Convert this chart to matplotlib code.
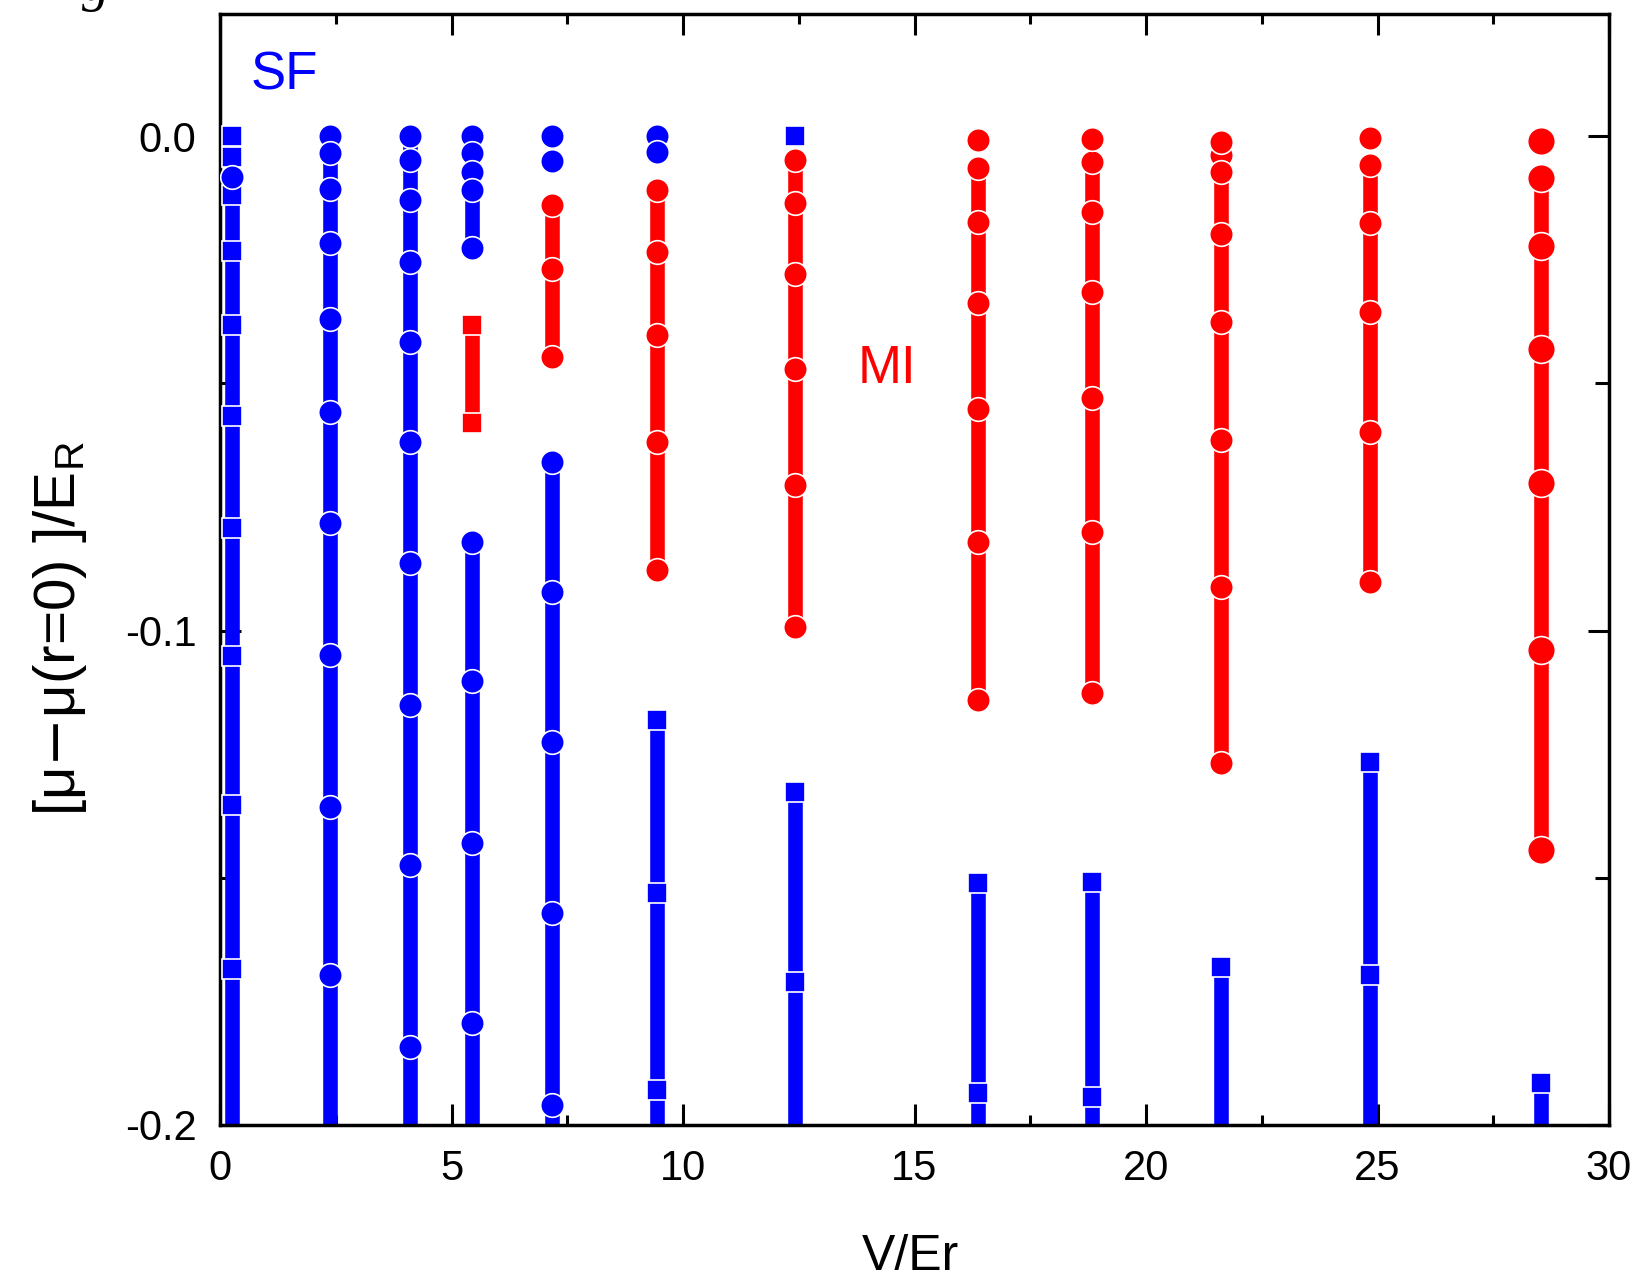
import matplotlib.pyplot as plt
from matplotlib.ticker import MultipleLocator, FormatStrFormatter

plt.rcParams['font.family'] = ['Liberation Sans', 'DejaVu Sans']
plt.rcParams['axes.unicode_minus'] = False

BLUE = '#0000ff'
RED = '#ff0000'

# lattice depths of the columns (V/Er)
V = [0.26, 2.38, 4.10, 5.44, 7.16, 9.43, 12.42, 16.38, 18.83, 21.62, 24.84, 28.53]

# SF levels (blue) that run down to the bottom of the plot
sf_y = [
    [0.0, -0.0042, -0.0119, -0.0233, -0.0382, -0.0567, -0.0792, -0.1052, -0.1352, -0.1684],
    [0.0, -0.0035, -0.0106, -0.0217, -0.0369, -0.0558, -0.0783, -0.1050, -0.1356, -0.1697],
    [0.0, -0.0049, -0.0129, -0.0254, -0.0416, -0.0618, -0.0864, -0.1151, -0.1474, -0.1842],
    [-0.0820, -0.1103, -0.1430, -0.1794],
    [-0.0659, -0.0922, -0.1225, -0.1572, -0.1960],
    [-0.1181, -0.1531, -0.1929],
    [-0.1326, -0.1710],
    [-0.1511, -0.1936],
    [-0.1508, -0.1943],
    [-0.1680],
    [-0.1266, -0.1697],
    [-0.1916],
]
sf_mk = ['s', 'o', 'o', 'o', 'o', 's', 's', 's', 's', 's', 's', 's']

# extra SF circle on the first column
sf_extra_x = [0.26]
sf_extra_y = [-0.0082]

# SF groups near mu = mu(r=0), not reaching the bottom
sf_top_x = [5.44, 7.16, 9.43, 12.42]
sf_top_y = [
    [0.0, -0.0035, -0.0072, -0.0109, -0.0227],
    [0.0, -0.0050],
    [0.0, -0.0032],
    [0.0],
]
sf_top_mk = ['o', 'o', 'o', 's']
sf_top_joined = [True, False, False, False]

# MI levels (red)
mi_x = [5.44, 7.16, 9.43, 12.42, 16.38, 18.83, 21.62, 24.84, 28.53]
mi_y = [
    [-0.0382, -0.0581],
    [-0.0140, -0.0268, -0.0446],
    [-0.0109, -0.0234, -0.0402, -0.0618, -0.0878],
    [-0.0049, -0.0136, -0.0278, -0.0470, -0.0706, -0.0992],
    [-0.0065, -0.0173, -0.0338, -0.0551, -0.0820, -0.1141],
    [-0.0052, -0.0153, -0.0315, -0.0530, -0.0800, -0.1126],
    [-0.0038, -0.0072, -0.0197, -0.0376, -0.0615, -0.0911, -0.1267],
    [-0.0059, -0.0176, -0.0355, -0.0598, -0.0901],
    [-0.0084, -0.0223, -0.0431, -0.0701, -0.1039, -0.1444],
]
mi_mk = ['s', 'o', 'o', 'o', 'o', 'o', 'o', 'o', 'o']
# detached red circle at the very top of the deeper lattices
mi_cap_x = [16.38, 18.83, 21.62, 24.84, 28.53]
mi_cap_y = [-0.0008, -0.0005, -0.0011, -0.0003, -0.0010]

x_lim = (0, 30)
y_lim = (-0.2, 0.0247)

LW = 10.5
MS = {'o': 17, 's': 14.5}
BIG = 20


def column(ax, x, ys, mk, color, ms, to_floor=False, joined=True):
    line_y = list(ys) + ([y_lim[0]] if to_floor else [])
    if joined and len(line_y) > 1:
        ax.plot([x] * len(line_y), line_y, color=color, lw=LW,
                solid_capstyle='butt', zorder=2)
    ax.plot([x] * len(ys), ys, ls='none', marker=mk, ms=ms, color=color,
            mec='white', mew=1.2, zorder=3)


fig = plt.figure(figsize=(16.41, 12.87), dpi=100)
ax = fig.add_axes([220 / 1641, 1 - 1125 / 1287, 1389 / 1641, 1111 / 1287])

for x, ys, mk in zip(V, sf_y, sf_mk):
    column(ax, x, ys, mk, BLUE, MS[mk], to_floor=True)
ax.plot(sf_extra_x, sf_extra_y, ls='none', marker='o', ms=MS['o'], color=BLUE,
        mec='white', mew=1.2, zorder=3)
for x, ys, mk, j in zip(sf_top_x, sf_top_y, sf_top_mk, sf_top_joined):
    column(ax, x, ys, mk, BLUE, MS[mk], joined=j)

for i, (x, ys, mk) in enumerate(zip(mi_x, mi_y, mi_mk)):
    ms = BIG if i == len(mi_x) - 1 else MS[mk]
    column(ax, x, ys, mk, RED, ms)
for i, (x, y) in enumerate(zip(mi_cap_x, mi_cap_y)):
    ms = BIG if i == len(mi_cap_x) - 1 else MS['o']
    ax.plot([x], [y], ls='none', marker='o', ms=ms, color=RED, mec='white',
            mew=1.2, zorder=3)

ax.set_xlim(*x_lim)
ax.set_ylim(*y_lim)
ax.xaxis.set_major_locator(MultipleLocator(5))
ax.xaxis.set_minor_locator(MultipleLocator(2.5))
ax.yaxis.set_major_locator(MultipleLocator(0.1))
ax.yaxis.set_minor_locator(MultipleLocator(0.05))
ax.yaxis.set_major_formatter(FormatStrFormatter('%.1f'))
ax.tick_params(which='both', direction='in', top=True, right=True, width=2.2,
               labelsize=30, pad=17)
ax.tick_params(which='major', length=15)
ax.tick_params(axis='x', which='minor', length=7)
ax.tick_params(axis='y', which='minor', length=10)
for s in ax.spines.values():
    s.set_linewidth(2.5)

ax.set_xlabel('V/Er', fontsize=36)
ax.xaxis.set_label_coords(0.497, -0.098)
ax.set_ylabel(r'[$\mathregular{\mu}$$-$$\mathregular{\mu}$(r=0) ]/E$_\mathregular{R}$', fontsize=42)
ax.yaxis.set_label_coords(-0.094, 0.447)

ax.text(0.67, 0.0123, 'SF', color=BLUE, fontsize=38, ha='left', va='center')
ax.text(13.78, -0.047, 'MI', color=RED, fontsize=38, ha='left', va='center')

# cut-off piece of the figure caption at the top edge
fig.text(82 / 1641, 1.0, 'g', family='Liberation Serif', style='italic',
         fontsize=40, va='baseline')

fig.savefig('out.png', dpi=100)
